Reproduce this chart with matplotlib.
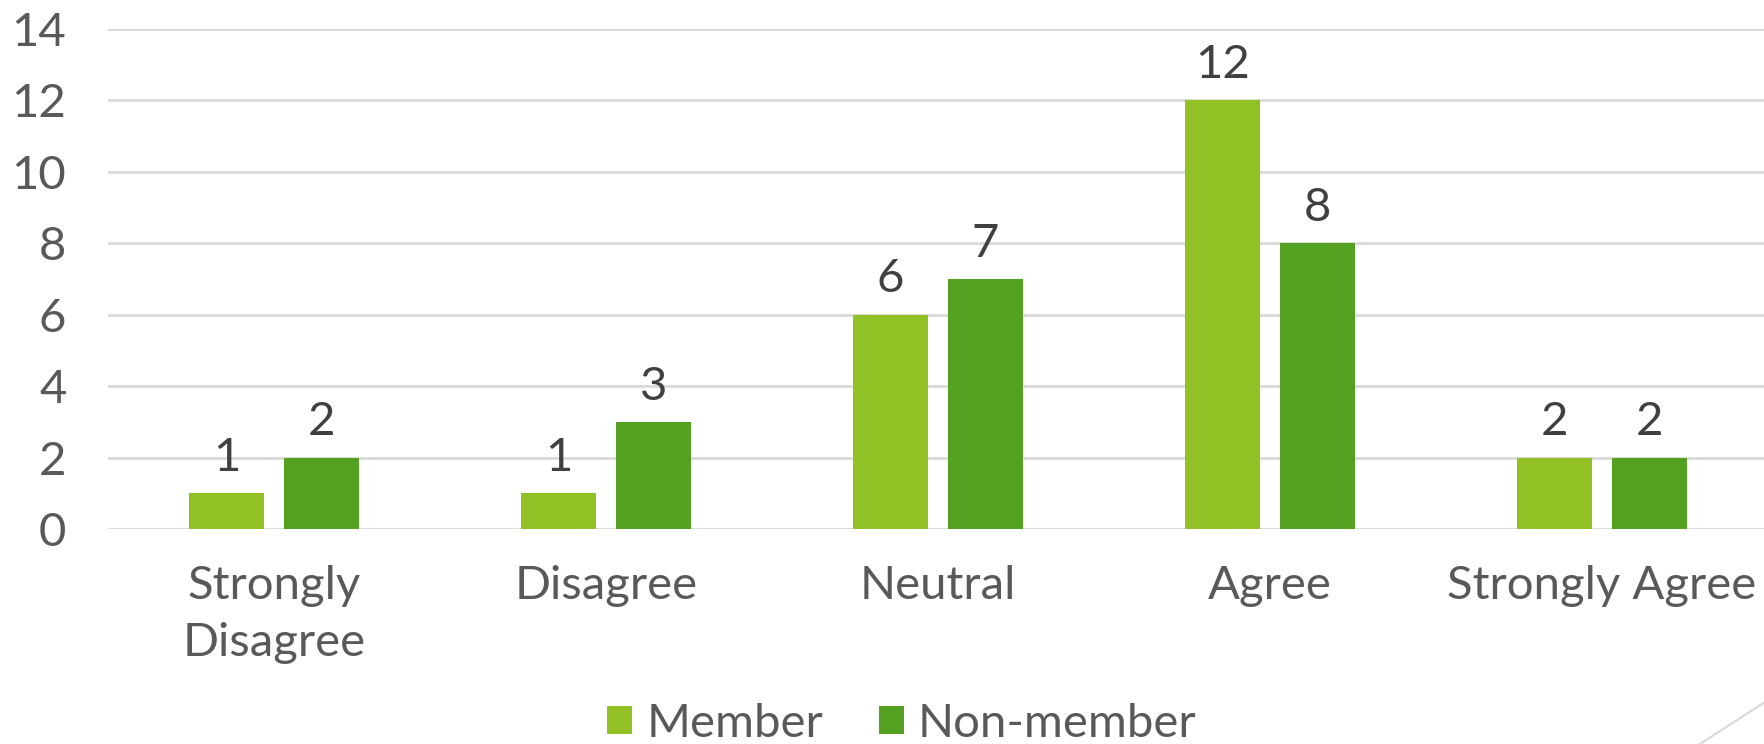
import numpy as np
import matplotlib
matplotlib.use("Agg")
import matplotlib.pyplot as plt
from matplotlib.lines import Line2D

categories = ["Strongly\nDisagree", "Disagree", "Neutral", "Agree", "Strongly Agree"]
member = [1, 1, 6, 12, 2]
non_member = [2, 3, 7, 8, 2]
series_names = ["Member", "Non-member"]
colors = ["#92C125", "#54A021"]

plt.rcParams['font.family'] = ['Lato', 'DejaVu Sans']

fig = plt.figure(figsize=(17.65, 7.44), dpi=100)
ax = fig.add_axes([0.0612, 0.289, 0.9405, 0.672])

x = np.arange(len(categories))
bw = 0.226
off = 0.1435
b1 = ax.bar(x - off, member, bw, color=colors[0], label=series_names[0], zorder=3)
b2 = ax.bar(x + off, non_member, bw, color=colors[1], label=series_names[1], zorder=3)

for bars, vals in [(b1, member), (b2, non_member)]:
    for r, v in zip(bars, vals):
        ax.annotate(str(v), (r.get_x() + r.get_width() / 2, v), xytext=(0, 16),
                    textcoords='offset points', ha='center', va='baseline',
                    fontsize=34, color='#404040')

ax.set_xlim(-0.5, 4.5)
ax.set_ylim(0, 14)
ax.set_yticks(range(0, 15, 2))
ax.set_xticks(x)
ax.set_xticklabels(categories, linespacing=1.45)
ax.tick_params(axis='both', length=0, labelsize=34, labelcolor='#595959')
ax.tick_params(axis='y', pad=30)
ax.tick_params(axis='x', pad=26)
ax.grid(axis='y', color='#D9D9D9', linewidth=2, zorder=0)
for s in ax.spines.values():
    s.set_visible(False)

fig.legend(loc='center', bbox_to_anchor=(0.511, 0.027), ncol=2, frameon=False,
           fontsize=34, labelcolor='#595959', handlelength=0.53, handleheight=0.53,
           handletextpad=0.3, columnspacing=1.17, borderpad=0)

fig.add_artist(Line2D([1700 / 1765, 1.0], [0.0, 42 / 744], transform=fig.transFigure,
                      color='#D9D9D9', linewidth=1.5))

fig.savefig("out.png", dpi=100)
